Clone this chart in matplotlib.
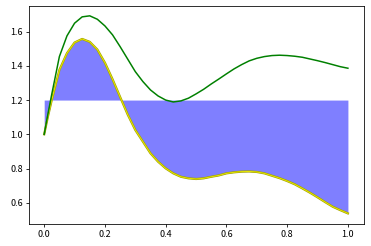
import matplotlib
matplotlib.use('Agg')
import matplotlib.pyplot as plt

plt.rcParams['font.family'] = ['Noto Sans CJK SC', 'DejaVu Sans']
plt.rcParams['axes.unicode_minus'] = False

# values, every 0.025 along x
x = [0.0, 0.0125, 0.025, 0.05, 0.075, 0.1, 0.125, 0.15, 0.175, 0.2,
     0.225, 0.25, 0.275, 0.3, 0.325, 0.35, 0.375, 0.4, 0.425, 0.45,
     0.475, 0.5, 0.525, 0.55, 0.575, 0.6, 0.625, 0.65, 0.675, 0.7,
     0.725, 0.75, 0.775, 0.8, 0.825, 0.85, 0.875, 0.9, 0.925, 0.95,
     0.975, 1.0]
y_lower = [1.0, 1.105, 1.201, 1.376, 1.474, 1.536, 1.557, 1.540, 1.495, 1.418,
           1.322, 1.218, 1.115, 1.025, 0.957, 0.889, 0.840, 0.801, 0.772, 0.752,
           0.743, 0.739, 0.743, 0.752, 0.760, 0.772, 0.778, 0.782, 0.783, 0.780,
           0.772, 0.758, 0.744, 0.727, 0.708, 0.684, 0.659, 0.632, 0.604, 0.577,
           0.557, 0.538]
y_upper = [1.0, 1.120, 1.235, 1.454, 1.575, 1.649, 1.686, 1.692, 1.672, 1.633,
           1.581, 1.512, 1.439, 1.366, 1.308, 1.259, 1.224, 1.200, 1.189, 1.195,
           1.211, 1.236, 1.263, 1.294, 1.323, 1.353, 1.382, 1.407, 1.429, 1.444,
           1.454, 1.460, 1.462, 1.460, 1.456, 1.450, 1.440, 1.430, 1.419, 1.407,
           1.395, 1.386]

level = 1.2

fig = plt.figure(figsize=(371 / 72, 246 / 72), dpi=72)
ax = fig.add_axes([0.079, 0.089, 0.903, 0.887])

ax.fill_between(x, y_lower, level, color='blue', alpha=0.5, linewidth=0)
ax.plot(x, y_lower, color='#a0a000', linewidth=2.2)
ax.plot(x, y_lower, color='#e6e600', linewidth=1.0)
ax.plot(x, y_upper, color='green', linewidth=1.5)

ax.set_xlim(-0.049, 1.054)
ax.set_ylim(0.4755, 1.750)
ax.set_xticks([0.0, 0.2, 0.4, 0.6, 0.8, 1.0])
ax.set_yticks([0.6, 0.8, 1.0, 1.2, 1.4, 1.6])
ax.tick_params(length=2.8, width=0.8, labelsize=9)

fig.savefig('out.png', dpi=72)
